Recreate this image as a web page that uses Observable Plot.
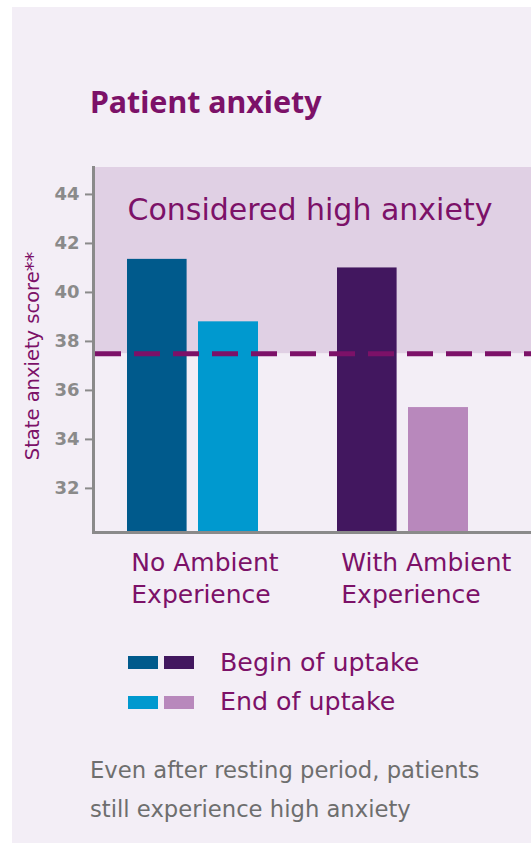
<!DOCTYPE html>
<html><head><meta charset="utf-8">
<script src="https://cdn.jsdelivr.net/npm/d3@7"></script>
<script src="https://cdn.jsdelivr.net/npm/@observablehq/plot@0.6"></script>
<style>
body{margin:0;background:#fff;width:531px;height:850px;overflow:hidden;position:relative;font-family:"DejaVu Sans",sans-serif}
#card{position:absolute;left:12px;top:7px;width:519px;height:836px;background:#f3eef6}
.abs{position:absolute;white-space:nowrap;line-height:1}
#title{left:90px;top:86.5px;font-size:30.4px;font-weight:bold;color:#7c1168;font-family:"Noto Sans",sans-serif}
.sw{position:absolute;width:30px;height:13px}
.lt{position:absolute;left:220px;font-size:25.3px;color:#7c1168;line-height:1;white-space:nowrap}
.cap{position:absolute;left:90px;font-size:22.7px;color:#6e6e6e;line-height:1;white-space:nowrap}
</style></head><body>
<div id="card"></div>
<div id="title" class="abs">Patient anxiety</div>
<div id="chart" class="abs" style="left:0;top:150px"></div>
<div id="legend"></div>
<div id="caption"></div>
<script>
const groups = ["No Ambient Experience", "With Ambient Experience"];
const groupLabels = ["No Ambient\nExperience", "With Ambient\nExperience"];
const phases = ["Begin of uptake", "End of uptake"];
const beginValues = [41.35, 41.0];
const endValues = [38.8, 35.3];
const beginColors = ["#005a8c", "#42175f"];
const endColors = ["#0099cf", "#b888bc"];
const yTicks = [32, 34, 36, 38, 40, 42, 44];
const threshold = 37.5;
const zoneLabel = "Considered high anxiety";
const yLabel = "State anxiety score**";
const captionLines = ["Even after resting period, patients", "still experience high anxiety"];
const yMin = 30.2, yMax = 45.1;

const purple = "#7c1168", gray = "#8a8a8a", shade = "#e0d0e4";

const rows = groups.flatMap((g, i) => [
  {group: g, phase: phases[0], value: beginValues[i], color: beginColors[i]},
  {group: g, phase: phases[1], value: endValues[i], color: endColors[i]}
]);

const plot = Plot.plot({
  width: 531, height: 470,
  marginLeft: 93, marginRight: 0, marginTop: 17, marginBottom: 88,
  style: {fontFamily: "'DejaVu Sans', sans-serif", background: "transparent", overflow: "visible"},
  x: {domain: groups, range: [127, 469], paddingInner: 0.376, paddingOuter: 0, axis: null},
  y: {domain: [yMin, yMax], axis: null},
  color: {type: "identity"},
  marks: [
    Plot.rect([threshold], {y1: d => d, y2: yMax, fill: shade}),
    Plot.text([zoneLabel], {text: d => d, frameAnchor: "top-left", textAnchor: "start", lineAnchor: "top", dx: 34, dy: 30.7, fontSize: 30, fill: purple}),
    Plot.barY(rows.filter(d => d.phase === phases[0]), {x: "group", y1: yMin, y2: "value", fill: "color", insetRight: 71.4}),
    Plot.barY(rows.filter(d => d.phase === phases[1]), {x: "group", y1: yMin, y2: "value", fill: "color", insetLeft: 71}),
    Plot.ruleY([threshold], {stroke: purple, strokeWidth: 5, strokeDasharray: "26,13", strokeDashoffset: -2}),
    Plot.axisY(yTicks, {tickSize: 8, tickPadding: 6, fontSize: 18, fontWeight: "bold", color: gray, strokeWidth: 2, label: null}),
    Plot.text([yLabel], {text: d => d, frameAnchor: "left", textAnchor: "middle", rotate: -90, dx: -61, dy: 6, fontSize: 19.5, fill: purple}),
    Plot.axisX({tickSize: 0, tickPadding: 16, tickFormat: d => groupLabels[groups.indexOf(d)], textAnchor: "start", dx: -61.7, fontSize: 25, lineHeight: 1.264, fill: purple, label: null}),
    Plot.frame({anchor: "left", stroke: gray, strokeWidth: 3}),
    Plot.ruleY([yMin], {stroke: gray, strokeWidth: 3})
  ]
});
document.getElementById("chart").appendChild(plot);

const legend = document.getElementById("legend");
const rowTops = [656, 696];
const textTops = [650.1, 688.6];
phases.forEach((p, r) => {
  const cols = r === 0 ? beginColors : endColors;
  cols.forEach((c, k) => {
    const s = document.createElement("div");
    s.className = "sw";
    s.style.left = (128 + k * 36) + "px";
    s.style.top = rowTops[r] + "px";
    s.style.background = c;
    legend.appendChild(s);
  });
  const t = document.createElement("div");
  t.className = "lt";
  t.style.top = textTops[r] + "px";
  t.textContent = p;
  legend.appendChild(t);
});
const cap = document.getElementById("caption");
captionLines.forEach((l, i) => {
  const d = document.createElement("div");
  d.className = "cap";
  d.style.top = (758.8 + i * 39) + "px";
  d.textContent = l;
  cap.appendChild(d);
});
</script>
</body></html>
